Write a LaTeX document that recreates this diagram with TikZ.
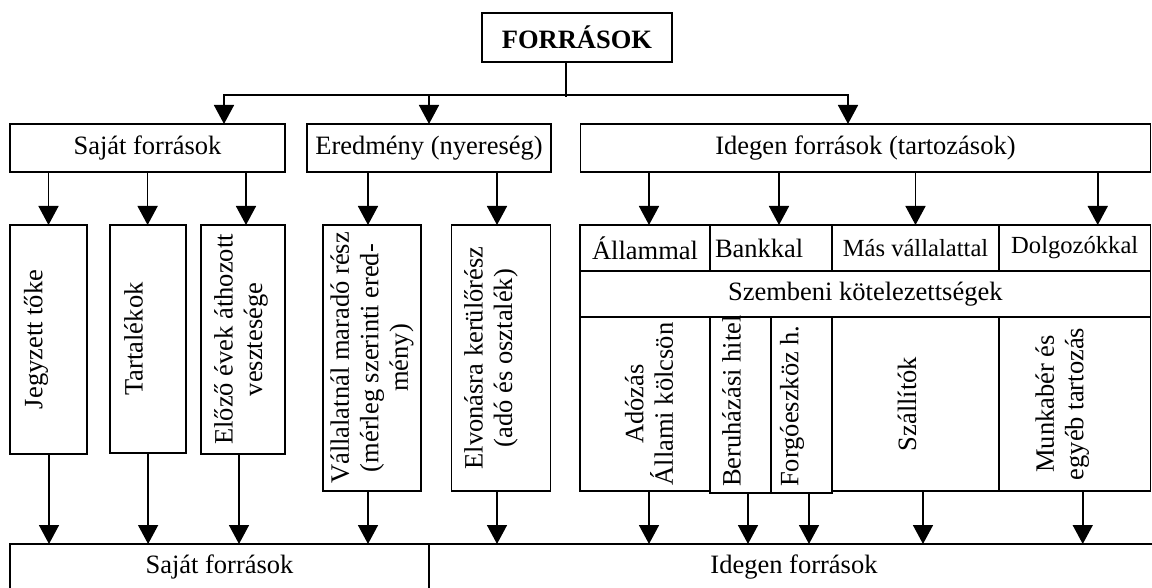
\documentclass[tikz,border=0pt]{standalone}
\usepackage{fontspec}
\setmainfont{Liberation Serif}
\usetikzlibrary{positioning, arrows.meta}
\newcommand{\bigtext}{\fontsize{26.5}{29.5}\selectfont}
\newcommand{\smalltext}{\fontsize{24.6}{28}\selectfont}
\tikzstyle{box}   = [rectangle, draw=black, line width=1.9pt, outer sep=0pt, inner sep=2pt, font=\bigtext]
\tikzstyle{vtext} = [rotate=90, align=center, inner sep=0pt, font=\bigtext]
\tikzstyle{line}  = [line width=1.6pt]
\tikzstyle{arrow} = [line width=1.6pt, -{Triangle[width=20pt, length=19pt]}]

\begin{document}
\begin{tikzpicture}[x=1pt, y=-1pt]
    \useasboundingbox (0,0) rectangle (1152,588);
    \clip (0,0) rectangle (1152,588);

    \node (forras)   [box, minimum width=190, minimum height=49, font=\bigtext\bfseries] at (577,37.5) {FORRÁSOK};
    \node (sajat)    [box, minimum width=275, minimum height=48] at (147.5,148) {Saját források};
    \node (eredmeny) [box, minimum width=244, minimum height=48] at (429,148) {Eredmény (nyereség)};
    \node (idegen)   [box, minimum width=570, minimum height=48] at (865.5,148) {Idegen források (tartozások)};

    % saját források és eredmény
    \node (jegyzett) [box, minimum width=77, minimum height=229] at (48.5,339.5) {};
    \node (tartalek) [box, minimum width=76, minimum height=228] at (147.6,339) {};
    \node (elozo)    [box, minimum width=84, minimum height=229] at (243,339.5) {};
    \node (vallalat) [box, minimum width=98, minimum height=266] at (372,358) {};
    \node (elvonas)  [box, minimum width=99, minimum height=266] at (501,358) {};

    \node (jegyzett-t) [vtext] at ([xshift=-12.5]jegyzett.center) {Jegyzett tőke};
    \node (tartalek-t) [vtext] at ([xshift=-14]tartalek.center) {Tartalékok};
    \node (elozo-t)    [vtext] at ([xshift=-2]elozo.center) {Előző évek áthozott\\vesztesége};
    \node (vallalat-t) [vtext] at (vallalat.center) {Vállalatnál maradó rész\\(mérleg szerinti ered-\\mény)};
    \node (elvonas-t)  [vtext] at ([xshift=-10]elvonas.center) {Elvonásra kerülőrész\\(adó és osztalék)};

    % idegen források
    \node (allammal)  [box, minimum width=130, minimum height=46] at (645,248) {Állammal};
    \node (bankkal)   [box, minimum width=122, minimum height=46, text width=112, align=left, right=0pt of allammal] {Bankkal};
    \node (masvall)   [box, minimum width=167, minimum height=46, font=\smalltext, right=0pt of bankkal] {Más vállalattal};
    \node (dolgozok)  [box, minimum width=151.5, minimum height=46, font=\smalltext, right=0pt of masvall] {Dolgozókkal};
    \node (szembeni)  [box, minimum width=570.5, minimum height=46, anchor=north west] at (allammal.south west) {Szembeni kötelezettségek};

    \node (adozas)    [box, minimum width=130, minimum height=174, anchor=north west] at (szembeni.south west) {};
    \node (beruhazas) [box, minimum width=61, minimum height=176, anchor=north west] at (adozas.north east) {};
    \node (forgo)     [box, minimum width=61, minimum height=176, anchor=north west] at (beruhazas.north east) {};
    \node (szallitok) [box, minimum width=167, minimum height=174, anchor=north west] at (forgo.north east) {};
    \node (munkaber)  [box, minimum width=151.5, minimum height=174, anchor=north west] at (szallitok.north east) {};

    \node (adozas-t)    [vtext] at ([xshift=4]adozas.center) {Adózás\\Állami kölcsön};
    \node (beruhazas-t) [vtext, anchor=west] at ([xshift=-9, yshift=6]beruhazas.south) {Beruházási hitel};
    \node (forgo-t)     [vtext, anchor=west] at ([xshift=-9.5, yshift=6]forgo.south) {Forgóeszköz h.};
    \node (szallitok-t) [vtext] at ([xshift=-8.5]szallitok.center) {Szállítók};
    \node (munkaber-t)  [vtext] at ([xshift=-12.5]munkaber.center) {Munkabér és\\egyéb tartozás};

    % alsó sor
    \node (sajatalso)  [box, minimum width=419, minimum height=46] at (219.5,567) {Saját források};
    \node (idegenalso) [box, minimum width=730, minimum height=46, anchor=west] at (sajatalso.east) {Idegen források};

    % arrows
    \coordinate (elagazas) at (566,95);
    \draw [line]  (forras.south -| elagazas) -- ([yshift=-2]elagazas);
    \draw [arrow] (elagazas) -| ([xshift=76.5]sajat.north);
    \draw [arrow] (elagazas) -| (eredmeny.north);
    \draw [arrow] (elagazas) -| ([xshift=-17.5]idegen.north);

    \draw [arrow] (sajat.south -| jegyzett.north) -- (jegyzett.north);
    \draw [arrow] (sajat.south -| tartalek.north) -- (tartalek.north);
    \draw [arrow] ([xshift=3]sajat.south -| elozo.north) -- ([xshift=3]elozo.north);
    \draw [arrow] ([xshift=-4]eredmeny.south -| vallalat.north) -- ([xshift=-4]vallalat.north);
    \draw [arrow] ([xshift=-4]eredmeny.south -| elvonas.north) -- ([xshift=-4]elvonas.north);
    \draw [arrow] ([xshift=4]idegen.south -| allammal.north) -- ([xshift=4]allammal.north);
    \draw [arrow] ([xshift=8]idegen.south -| bankkal.north) -- ([xshift=8]bankkal.north);
    \draw [arrow] (idegen.south -| masvall.north) -- (masvall.north);
    \draw [arrow] ([xshift=23]idegen.south -| dolgozok.north) -- ([xshift=23]dolgozok.north);

    \draw [arrow] ([xshift=0.5]jegyzett.south) -- ([xshift=0.5]jegyzett.south |- sajatalso.north);
    \draw [arrow] ([xshift=0.5]tartalek.south) -- ([xshift=0.5]tartalek.south |- sajatalso.north);
    \draw [arrow] ([xshift=-4]elozo.south) -- ([xshift=-4]elozo.south |- sajatalso.north);
    \draw [arrow] ([xshift=-4]vallalat.south) -- ([xshift=-4]vallalat.south |- sajatalso.north);
    \draw [arrow] ([xshift=-4]elvonas.south) -- ([xshift=-4]elvonas.south |- idegenalso.north);
    \draw [arrow] ([xshift=4]adozas.south) -- ([xshift=4]adozas.south |- idegenalso.north);
    \draw [arrow] ([xshift=7.5]beruhazas.south) -- ([xshift=7.5]beruhazas.south |- idegenalso.north);
    \draw [arrow] ([xshift=7.5]forgo.south) -- ([xshift=7.5]forgo.south |- idegenalso.north);
    \draw [arrow] ([xshift=7.5]szallitok.south) -- ([xshift=7.5]szallitok.south |- idegenalso.north);
    \draw [arrow] ([xshift=8]munkaber.south) -- ([xshift=8]munkaber.south |- idegenalso.north);
\end{tikzpicture}
\end{document}
